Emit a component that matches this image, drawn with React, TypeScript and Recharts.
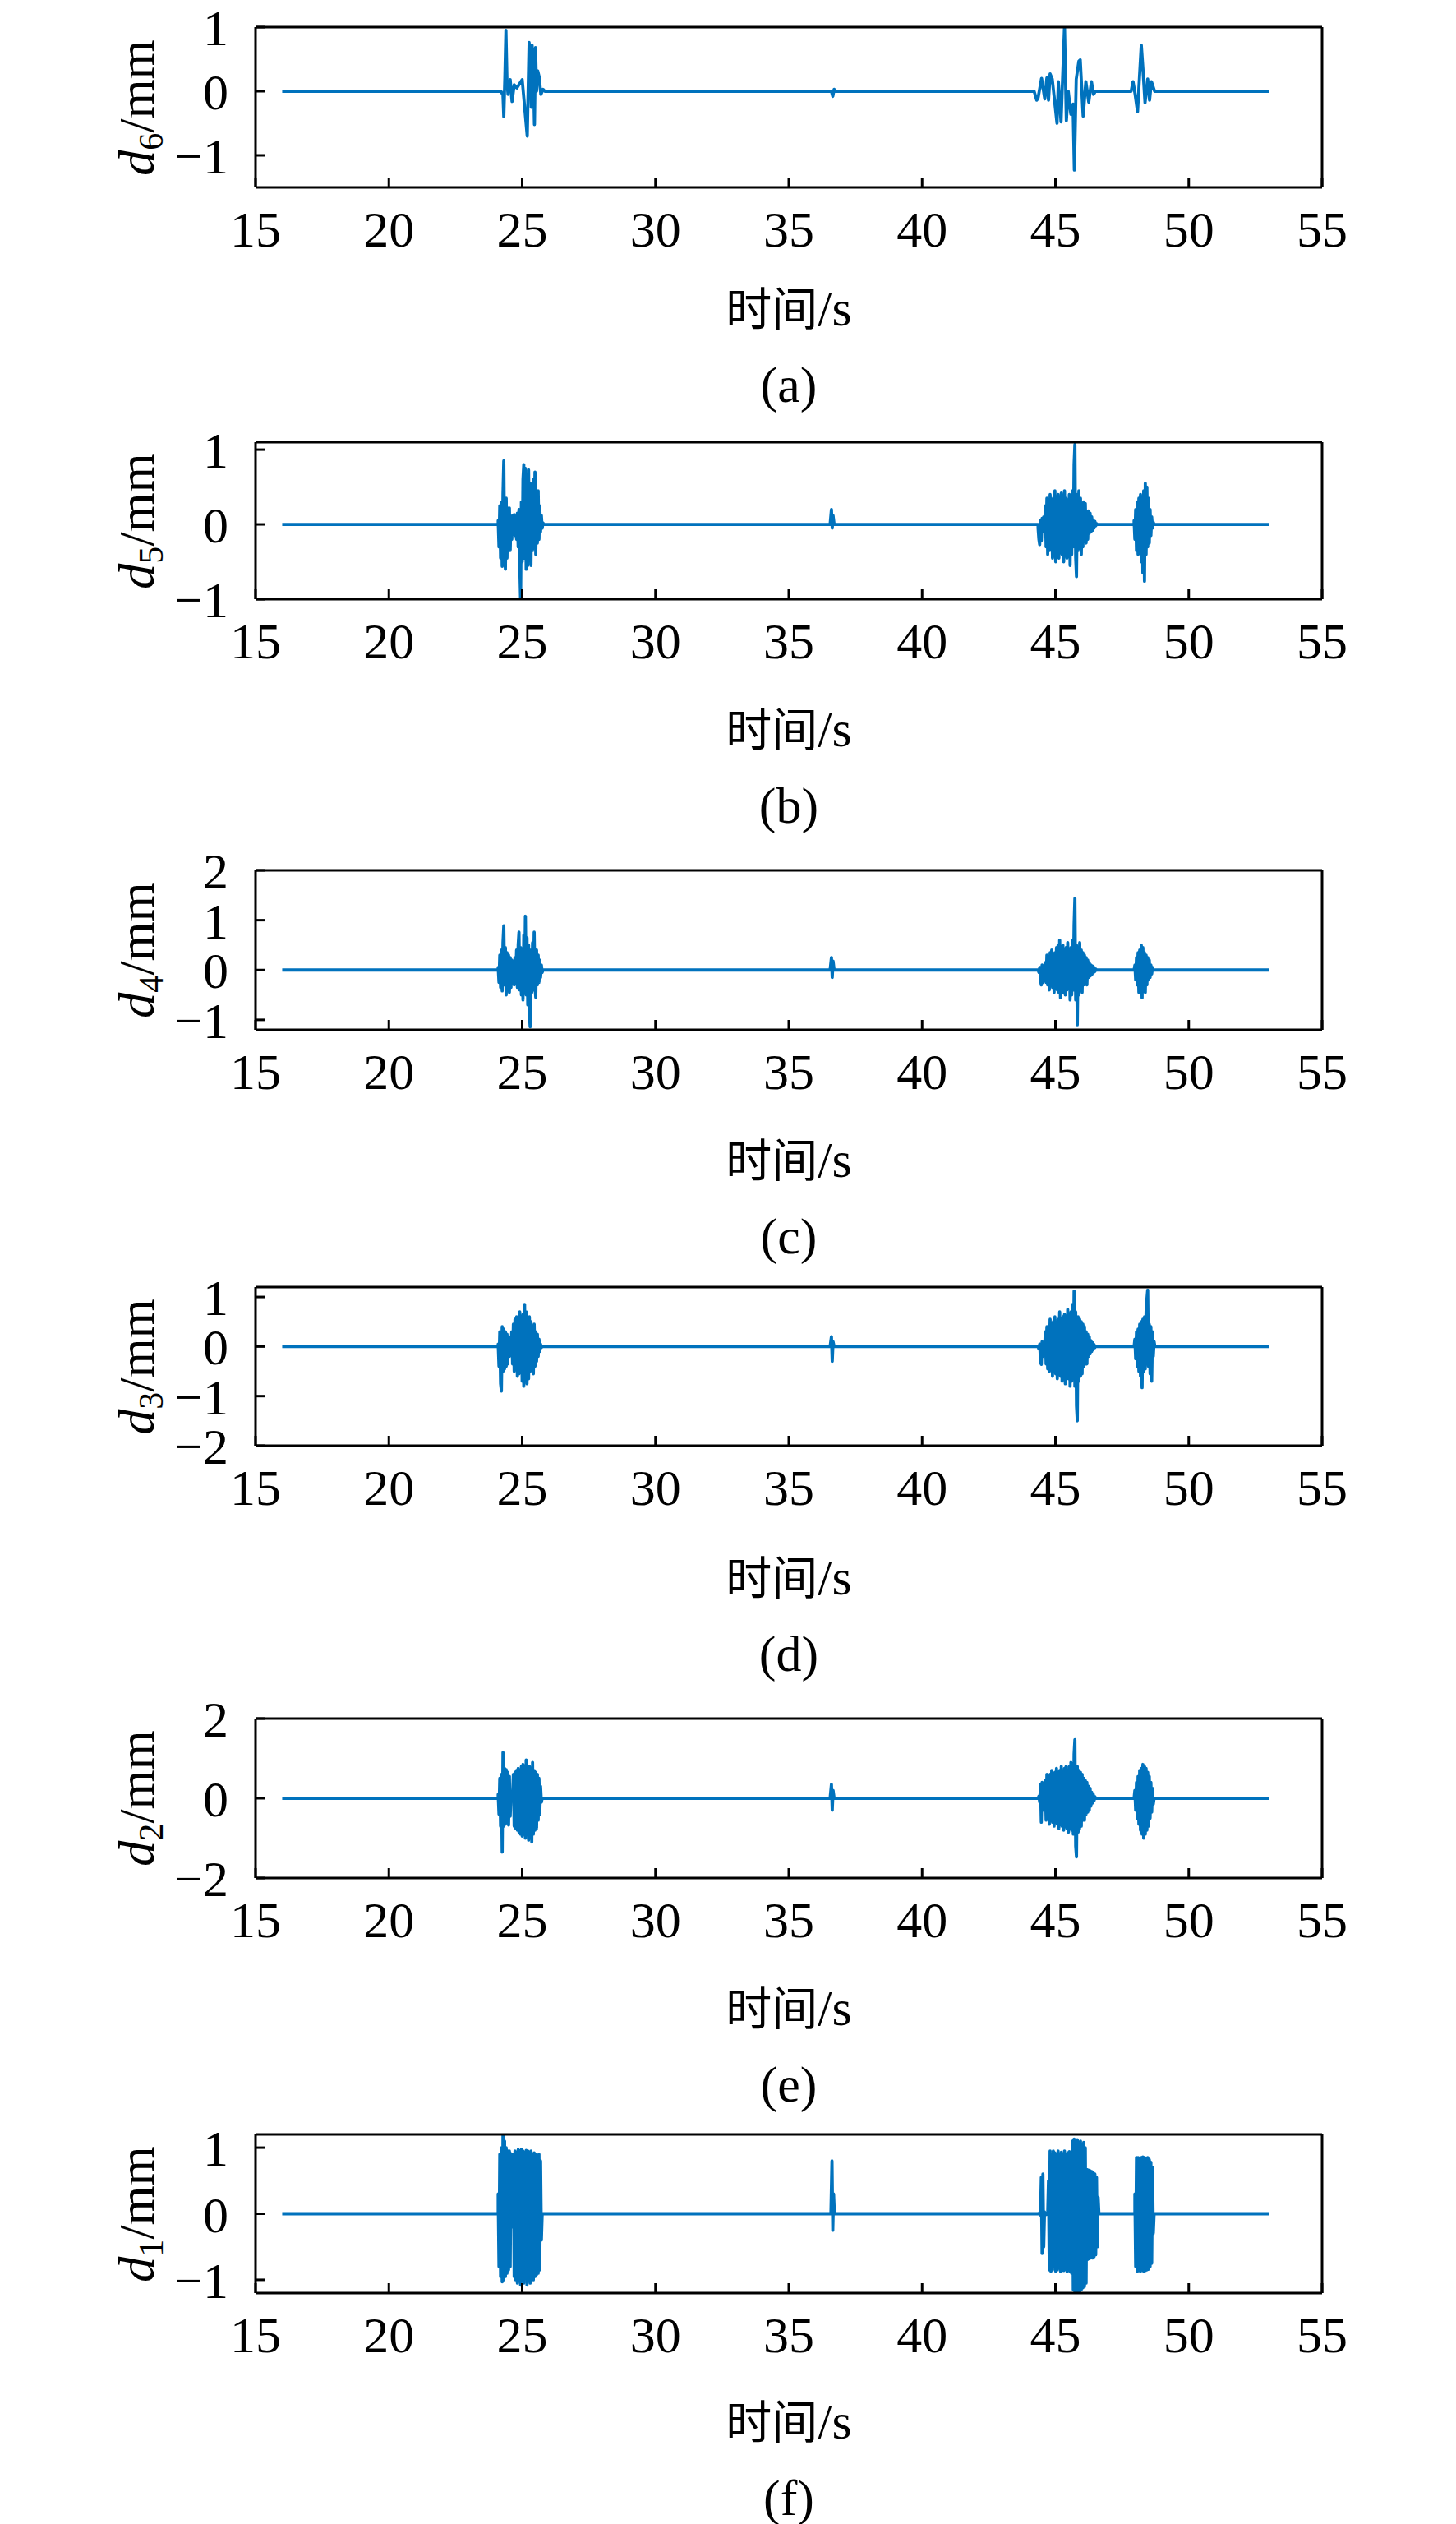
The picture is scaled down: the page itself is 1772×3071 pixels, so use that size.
import React from 'react';
import { LineChart, Line, XAxis, YAxis } from 'recharts';

type Pt = [number, number];
interface Burst {
  t0: number;
  dt: number;
  v: number[];
}

const SERIF = '"Liberation Serif", "Times New Roman", serif';
const CJK = '"Noto Sans CJK SC", sans-serif';
const BLUE = '#0072BD';

// time axis
const timeTicks = [15, 20, 25, 30, 35, 40, 45, 50, 55];
const timeDomain: [number, number] = [15, 55];

// ---- d6 ----
const d6Ticks = [-1, 0, 1];
const d6Quiet: Pt[] = [
  [16, 0], [24.2, 0], [25.85, 0], [36.6, 0], [36.65, -0.08], [36.7, 0.03], [36.75, 0], [44.2, 0],
  [46.5, 0], [47.84, 0], [48.72, 0], [53, 0],
];
const d6Waves: Pt[] = [
  [24.28, -0.06], [24.31, -0.4], [24.35, 0.2], [24.39, 0.95], [24.43, 0.15], [24.47, -0.05], [24.51, 0.15],
  [24.55, 0.18], [24.62, -0.16], [24.7, 0.1], [24.8, 0.05], [25.0, 0.18], [25.19, -0.7], [25.26, 0.76],
  [25.31, 0.45], [25.34, -0.25], [25.37, 0.72], [25.41, 0.55], [25.46, -0.52], [25.5, 0.68], [25.54, 0.0],
  [25.58, 0.32], [25.64, 0.22], [25.7, -0.05], [25.78, 0.03],
  [44.3, -0.14], [44.35, -0.1], [44.48, 0.2], [44.6, -0.12], [44.68, 0.21], [44.74, -0.14], [44.8, 0.27],
  [44.88, 0.19], [45.06, -0.5], [45.11, 0.15], [45.21, -0.48], [45.34, 1.0], [45.41, -0.46], [45.48, 0.0],
  [45.58, -0.36], [45.66, -0.2], [45.71, -1.23], [45.78, 0.19], [45.88, 0.47], [45.93, 0.49], [46.04, -0.39],
  [46.14, 0.15], [46.25, -0.17], [46.35, 0.15], [46.43, -0.05],
  [47.91, 0.15], [47.99, -0.05], [48.08, -0.32], [48.22, 0.72], [48.28, 0.36], [48.36, -0.18], [48.46, 0.19],
  [48.53, -0.14], [48.6, 0.15],
];

// ---- d5 ----
const d5Ticks = [-1, 0, 1];
const d5Quiet: Pt[] = [
  [16, 0], [24.1, 0], [25.8, 0], [36.55, 0], [36.6, 0.2], [36.63, -0.05], [36.66, 0.12], [36.7, 0],
  [44.35, 0], [46.57, 0], [47.95, 0], [48.7, 0], [53, 0],
];
const d5Bursts: Burst[] = [
  {
    t0: 24.1, dt: 0.03,
    v: [0.05, -0.3, 0.25, -0.45, 0.3, -0.56, 0.4, 0.85, -0.4, -0.6, 0.35, -0.45, 0.22, -0.3, 0.22, -0.35,
      0.1, -0.2, 0.12, -0.1, 0.13, -0.15, 0.1, -0.2, 0.15, -0.3, 0.2, -0.55, -1.0, 0.3, -0.5, 0.6, 0.8, -0.45,
      0.75, -0.6, 0.5, -0.55, 0.73, -0.4, 0.55, -0.55, 0.45, -0.35, 0.6, -0.3, 0.7, -0.4, 0.3, -0.25, 0.45,
      -0.2, 0.25, -0.1, 0.12, -0.05, 0.02],
  },
  {
    t0: 44.35, dt: 0.03,
    v: [-0.05, -0.2, -0.27, 0.05, -0.22, 0.08, -0.05, 0.1, -0.1, 0.25, -0.3, 0.35, -0.4, 0.3, -0.35, 0.4,
      -0.2, 0.3, -0.45, 0.35, -0.3, 0.45, -0.5, 0.3, -0.35, 0.4, -0.45, 0.25, -0.3, 0.42, -0.4, 0.3, -0.5,
      0.45, -0.3, 0.35, -0.45, 0.3, -0.35, 0.4, -0.55, 0.3, -0.4, 0.45, -0.3, 0.8, 1.07, -0.45, -0.7, 0.4,
      -0.35, 0.45, -0.3, 0.35, -0.4, 0.25, -0.3, 0.3, -0.2, 0.28, -0.25, 0.15, -0.2, 0.18, -0.12, 0.15, -0.1,
      0.1, -0.08, 0.06, -0.05, 0.04, -0.02, 0.01],
  },
  {
    t0: 47.95, dt: 0.03,
    v: [0.05, -0.2, 0.2, -0.35, 0.3, -0.4, 0.35, -0.3, 0.4, -0.5, 0.3, -0.65, 0.45, -0.76, 0.55, -0.4, 0.5,
      -0.3, 0.35, -0.25, 0.2, -0.15, 0.1, -0.05, 0.03, 0],
  },
];

// ---- d4 ----
const d4Ticks = [-1, 0, 1, 2];
const d4Quiet: Pt[] = [
  [16, 0], [24.1, 0], [25.78, 0], [36.55, 0], [36.6, 0.25], [36.63, -0.15], [36.66, 0.18], [36.7, 0],
  [44.35, 0], [46.54, 0], [47.95, 0], [48.67, 0], [53, 0],
];
const d4Bursts: Burst[] = [
  {
    t0: 24.1, dt: 0.03,
    v: [0.05, -0.25, 0.3, -0.35, 0.4, -0.42, 0.55, 0.89, -0.3, 0.45, -0.5, 0.35, -0.4, 0.3, -0.45, 0.25,
      -0.35, 0.2, -0.25, 0.15, -0.3, 0.25, -0.2, 0.4, -0.35, 0.5, 0.76, -0.4, 0.45, -0.5, 0.4, -0.6, 0.7,
      -0.45, 1.08, -0.5, 0.65, -0.7, 0.5, -0.9, -1.14, 0.4, -0.45, 0.55, -0.4, 0.76, -0.35, -0.55, 0.4, -0.3,
      0.3, -0.25, 0.2, -0.15, 0.1, -0.05, 0],
  },
  {
    t0: 44.35, dt: 0.03,
    v: [0, -0.05, 0.05, -0.2, -0.3, 0.1, -0.25, 0.05, -0.05, 0.15, -0.25, 0.3, -0.3, 0.25, -0.4, 0.35, -0.3,
      0.4, -0.35, 0.3, -0.45, 0.35, -0.3, 0.45, -0.4, 0.5, -0.45, 0.6, -0.56, 0.4, -0.35, 0.5, -0.45, 0.35,
      -0.5, 0.45, -0.4, 0.55, -0.35, 0.4, -0.6, 0.45, -0.5, 0.6, -0.4, 0.9, 1.44, -0.6, 0.5, -1.1, 0.45,
      -0.5, 0.55, -0.4, 0.4, -0.45, 0.35, -0.3, 0.3, -0.25, 0.25, -0.3, 0.2, -0.15, 0.15, -0.12, 0.1, -0.1,
      0.08, -0.06, 0.05, -0.03, 0.02, 0],
  },
  {
    t0: 47.95, dt: 0.03,
    v: [0, 0.1, -0.2, 0.25, -0.3, 0.35, -0.45, 0.4, -0.35, 0.5, -0.56, 0.45, -0.4, 0.35, -0.45, 0.3, -0.3,
      0.25, -0.2, 0.2, -0.15, 0.1, -0.08, 0.05, 0],
  },
];

// ---- d3 ----
const d3Ticks = [-2, -1, 0, 1];
const d3Quiet: Pt[] = [
  [16, 0], [24.1, 0], [25.75, 0], [36.55, 0], [36.6, 0.2], [36.63, -0.3], [36.66, 0.1], [36.7, 0],
  [44.35, 0], [46.51, 0], [47.95, 0], [48.73, 0], [53, 0],
];
const d3Bursts: Burst[] = [
  {
    t0: 24.1, dt: 0.03,
    v: [0.05, -0.4, 0.3, -0.75, -0.9, 0.4, -0.5, 0.35, -0.45, 0.3, -0.4, 0.25, -0.35, 0.2, -0.2, 0.05, -0.05,
      0.3, -0.35, 0.45, -0.5, 0.55, -0.45, 0.6, -0.6, 0.5, -0.55, 0.7, -0.5, 0.6, -0.7, 0.65, -0.8, 0.85,
      -0.6, 0.7, -0.75, 0.55, -0.65, 0.6, -0.5, 0.5, -0.45, 0.4, -0.55, 0.45, -0.4, 0.3, -0.3, 0.25, -0.2,
      0.15, -0.1, 0.05, -0.02, 0],
  },
  {
    t0: 44.35, dt: 0.03,
    v: [0, -0.05, 0.05, -0.3, -0.36, 0.1, -0.2, 0.05, -0.1, 0.3, -0.35, 0.4, -0.45, 0.35, -0.5, 0.55, -0.4,
      0.45, -0.6, 0.5, -0.45, 0.6, -0.55, 0.45, -0.65, 0.55, -0.5, 0.7, -0.6, 0.5, -0.7, 0.6, -0.55, 0.65,
      -0.75, 0.55, -0.6, 0.75, -0.65, 0.6, -0.8, 0.7, -0.7, 0.85, -0.6, 1.12, -0.8, 0.7, -1.2, -1.5, 0.6,
      -0.7, 0.55, -0.6, 0.5, -0.55, 0.45, -0.4, 0.4, -0.35, 0.3, -0.35, 0.25, -0.2, 0.2, -0.15, 0.12, -0.1,
      0.08, -0.06, 0.04, -0.02, 0],
  },
  {
    t0: 47.95, dt: 0.03,
    v: [0, 0.15, -0.25, 0.3, -0.4, 0.35, -0.5, 0.45, -0.6, 0.5, -0.83, 0.55, -0.5, 0.6, -0.45, 0.7, 0.95,
      1.14, -0.4, 0.45, -0.55, 0.4, -0.7, 0.3, -0.2, 0.1, 0],
  },
];

// ---- d2 ----
const d2Ticks = [-2, 0, 2];
const d2Quiet: Pt[] = [
  [16, 0], [24.1, 0], [25.75, 0], [36.55, 0], [36.6, 0.35], [36.63, -0.3], [36.66, 0.2], [36.7, 0],
  [44.35, 0], [46.51, 0], [47.95, 0], [48.7, 0], [53, 0],
];
const d2Bursts: Burst[] = [
  {
    t0: 24.1, dt: 0.03,
    v: [0.1, -0.4, 0.5, -0.7, 0.6, -1.35, 1.15, -0.7, 0.75, -0.65, 0.72, -0.6, 0.65, -0.67, 0.55, -0.45,
      0.1, -0.05, 0.05, 0.6, -0.7, 0.65, -0.75, 0.7, -0.8, 0.75, -0.85, 0.7, -0.9, 0.8, -0.95, 0.85, -0.9,
      0.8, -1.0, 0.96, -0.85, 0.75, -1.05, 0.8, -0.95, 0.7, -1.1, 0.9, -0.9, 0.7, -0.8, 0.65, -0.75, 0.6,
      -0.55, 0.5, -0.4, 0.3, -0.1, 0],
  },
  {
    t0: 44.35, dt: 0.03,
    v: [0, 0.05, -0.1, 0.35, -0.6, 0.4, -0.3, 0.1, -0.1, 0.45, -0.55, 0.6, -0.5, 0.55, -0.65, 0.6, -0.55,
      0.7, -0.6, 0.55, -0.7, 0.65, -0.6, 0.75, -0.65, 0.6, -0.75, 0.7, -0.65, 0.8, -0.7, 0.65, -0.8, 0.75,
      -0.7, 0.8, -0.75, 0.7, -0.85, 0.8, -0.75, 0.9, -0.8, 0.85, -0.9, 1.1, 1.47, -1.2, -1.47, 0.8, -0.85,
      0.7, -0.75, 0.65, -0.7, 0.6, -0.55, 0.5, -0.55, 0.45, -0.4, 0.4, -0.35, 0.3, -0.3, 0.25, -0.2, 0.15,
      -0.12, 0.1, -0.06, 0.04, 0],
  },
  {
    t0: 47.95, dt: 0.03,
    v: [0, 0.2, -0.3, 0.4, -0.5, 0.55, -0.65, 0.7, -0.8, 0.75, -0.9, 0.85, -1.0, 0.8, -0.9, 0.75, -0.8,
      0.65, -0.7, 0.55, -0.5, 0.4, -0.35, 0.25, -0.15, 0],
  },
];

// ---- d1 ----
const d1Ticks = [-1, 0, 1];
const d1Quiet: Pt[] = [
  [16, 0], [24.1, 0], [25.75, 0], [36.58, 0], [36.62, 0.8], [36.65, -0.25], [36.68, 0.3], [36.71, 0],
  [44.35, 0], [46.63, 0], [47.98, 0], [48.7, 0], [53, 0],
];
const d1Bursts: Burst[] = [
  {
    t0: 24.1, dt: 0.03,
    v: [0.3, -0.8, 0.9, -0.95, 1.0, -1.03, 1.2, -1.0, 1.1, -0.95, 1.0, -0.9, 0.95, -0.85, 0.95, -0.8, 0.91,
      -0.2, 0.1, 0.9, -0.95, 0.95, -1.0, 0.92, -1.05, 0.97, -1.0, 0.95, -1.08, 0.97, -1.0, 0.95, -1.05, 0.92,
      -0.98, 0.96, -1.08, 0.95, -1.0, 0.93, -1.05, 0.95, -0.95, 0.9, -1.0, 0.92, -0.95, 0.9, -0.92, 0.88,
      -0.9, 0.9, -0.85, 0.8, -0.4, 0],
  },
  {
    t0: 44.35, dt: 0.03,
    v: [0, 0, 0.02, -0.02, 0.55, -0.6, 0.6, -0.5, 0.03, -0.02, 0.01, 0, -0.01, 0.5, -0.85, 0.95, -0.87, 0.9,
      -0.85, 0.95, -0.8, 0.92, -0.87, 0.88, -0.85, 0.95, -0.82, 0.9, -0.87, 0.93, -0.85, 0.9, -0.86, 0.95,
      -0.84, 0.9, -0.87, 0.92, -0.86, 0.94, -0.88, 0.92, -0.9, 1.1, -1.15, 1.13, -1.2, 1.1, -1.24, 1.12,
      -1.18, 1.08, -1.2, 1.1, -1.15, 1.05, -1.12, 1.08, -1.1, 1.0, -1.05, 0.67, -0.69, 0.66, -0.68, 0.65,
      -0.66, 0.64, -0.67, 0.62, -0.65, 0.6, -0.62, 0.55, -0.5, 0.25, 0],
  },
  {
    t0: 47.98, dt: 0.03,
    v: [0.3, -0.8, 0.85, -0.87, 0.85, -0.86, 0.84, -0.87, 0.85, -0.85, 0.86, -0.87, 0.85, -0.86, 0.84, -0.85,
      0.85, -0.84, 0.82, -0.8, 0.78, -0.75, 0.7, -0.3, 0],
  },
];

interface Row {
  t: number;
  v: number;
}

const expand = (b: Burst): Pt[] =>
  b.v.map((v, i) => [Math.round((b.t0 + i * b.dt) * 1000) / 1000, v] as Pt);

const toRows = (quiet: Pt[], bursts: Burst[], extra: Pt[] = []): Row[] =>
  [...quiet, ...extra, ...bursts.flatMap(expand)]
    .sort((a, b) => a[0] - b[0])
    .map(([t, v]) => ({ t, v }));

const fmt = (v: number) => (v < 0 ? '\u2212' + Math.abs(v) : String(v));

interface PanelDef {
  sub: string;
  caption: string;
  rows: Row[];
  domain: [number, number];
  ticks: number[];
  top: number;
  h: number;
  gap: number;
}

const panels: PanelDef[] = [
  { sub: '6', caption: '(a)', rows: toRows(d6Quiet, [], d6Waves), domain: [-1.5, 1], ticks: d6Ticks, top: 33, h: 195, gap: 147 },
  { sub: '5', caption: '(b)', rows: toRows(d5Quiet, d5Bursts), domain: [-1, 1.1], ticks: d5Ticks, top: 538, h: 191, gap: 158 },
  { sub: '4', caption: '(c)', rows: toRows(d4Quiet, d4Bursts), domain: [-1.2, 2], ticks: d4Ticks, top: 1059, h: 194, gap: 158 },
  { sub: '3', caption: '(d)', rows: toRows(d3Quiet, d3Bursts), domain: [-2, 1.2], ticks: d3Ticks, top: 1566, h: 193, gap: 160 },
  { sub: '2', caption: '(e)', rows: toRows(d2Quiet, d2Bursts), domain: [-2, 2], ticks: d2Ticks, top: 2091, h: 194, gap: 158 },
  { sub: '1', caption: '(f)', rows: toRows(d1Quiet, d1Bursts), domain: [-1.2, 1.2], ticks: d1Ticks, top: 2597, h: 193, gap: 156 },
];

const PLOT_L = 311;
const PLOT_R = 1609;
const W = 1772;
const PAD_TOP = 40;
const axisStroke = { stroke: '#000', strokeWidth: 3 };
const tickFont = { fontSize: 62, fill: '#000', fontFamily: SERIF };

const Panel: React.FC<{ p: PanelDef }> = ({ p }) => {
  const bottom = p.top + p.h;
  const cx = (PLOT_L + PLOT_R) / 2;
  return (
    <>
      <div style={{ position: 'absolute', left: 0, top: p.top - PAD_TOP - 10 }}>
        <LineChart
          width={W}
          height={p.h + 110 + PAD_TOP}
          data={p.rows}
          margin={{ top: PAD_TOP, right: W - PLOT_R - 10, bottom: 0, left: PLOT_L - 100 }}
        >
          <XAxis
            xAxisId="b"
            dataKey="t"
            type="number"
            domain={timeDomain}
            ticks={timeTicks}
            interval={0}
            allowDataOverflow
            orientation="bottom"
            height={100}
            tickSize={-12}
            tickMargin={40}
            axisLine={axisStroke}
            tickLine={axisStroke}
            tick={tickFont}
          />
          <XAxis
            xAxisId="t"
            dataKey="t"
            type="number"
            domain={timeDomain}
            ticks={timeTicks}
            interval={0}
            allowDataOverflow
            orientation="top"
            height={10}
            tickSize={-12}
            axisLine={axisStroke}
            tickLine={axisStroke}
            tick={false}
          />
          <YAxis
            yAxisId="l"
            type="number"
            domain={p.domain}
            ticks={p.ticks}
            interval={0}
            allowDataOverflow
            orientation="left"
            width={100}
            tickSize={-12}
            tickMargin={45}
            axisLine={axisStroke}
            tickLine={axisStroke}
            tick={tickFont}
            tickFormatter={fmt}
          />
          <YAxis
            yAxisId="r"
            type="number"
            domain={p.domain}
            ticks={p.ticks}
            interval={0}
            allowDataOverflow
            orientation="right"
            width={10}
            tickSize={-12}
            axisLine={axisStroke}
            tickLine={axisStroke}
            tick={false}
          />
          <Line
            xAxisId="b"
            yAxisId="l"
            type="linear"
            dataKey="v"
            stroke={BLUE}
            strokeWidth={3.8}
            strokeLinejoin="round"
            dot={false}
            activeDot={false}
            isAnimationActive={false}
          />
          <Line
            xAxisId="t"
            yAxisId="r"
            type="linear"
            dataKey="v"
            stroke="none"
            dot={false}
            activeDot={false}
            isAnimationActive={false}
          />
        </LineChart>
      </div>
      <div
        style={{
          position: 'absolute',
          left: 170,
          top: p.top + p.h / 2,
          transform: 'translate(-50%, -50%) rotate(-90deg)',
          fontFamily: SERIF,
          fontSize: 62,
          lineHeight: 1,
          whiteSpace: 'nowrap',
          color: '#000',
        }}
      >
        <i>d</i>
        <sub style={{ fontSize: 42, verticalAlign: '-0.25em' }}>{p.sub}</sub>/mm
      </div>
      <div
        style={{
          position: 'absolute',
          left: cx,
          top: bottom + p.gap,
          transform: 'translate(-50%, -50%)',
          fontFamily: SERIF,
          fontSize: 62,
          lineHeight: 1,
          whiteSpace: 'nowrap',
          color: '#000',
        }}
      >
        <span style={{ fontFamily: CJK, fontSize: 56 }}>时间</span>/s
      </div>
      <div
        style={{
          position: 'absolute',
          left: cx,
          top: bottom + p.gap + 93,
          transform: 'translate(-50%, -50%)',
          fontFamily: SERIF,
          fontSize: 62,
          lineHeight: 1,
          whiteSpace: 'nowrap',
          color: '#000',
        }}
      >
        {p.caption}
      </div>
    </>
  );
};

export default function App() {
  return (
    <div style={{ position: 'absolute', left: 0, top: 0, width: W, height: 3071, background: '#fff' }}>
      {panels.map((p) => (
        <Panel key={p.caption} p={p} />
      ))}
    </div>
  );
}
